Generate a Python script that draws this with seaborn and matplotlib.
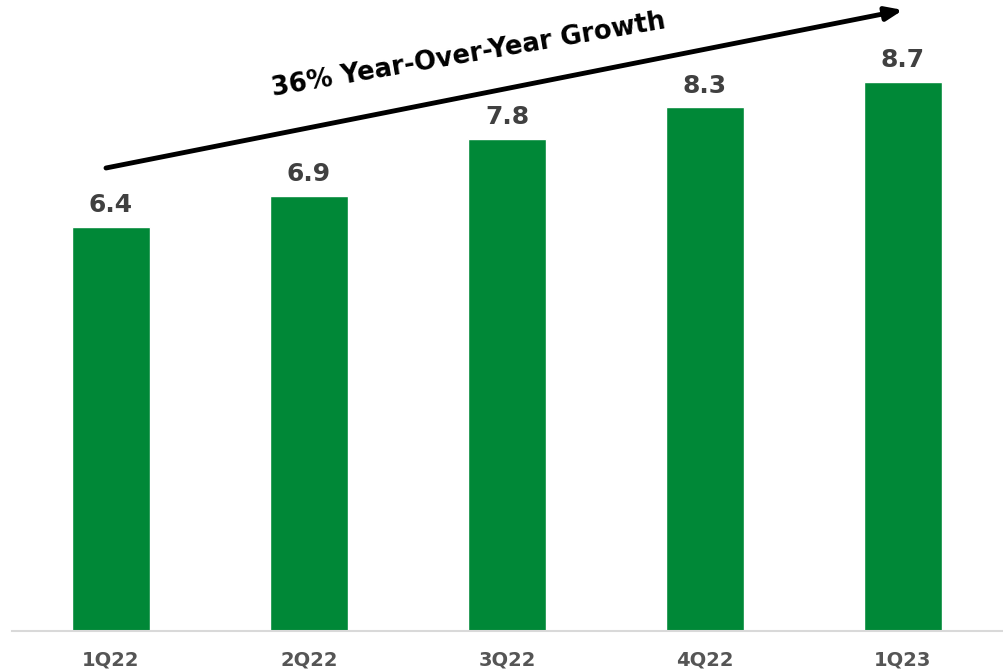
import matplotlib
matplotlib.use("Agg")
import matplotlib.pyplot as plt
import seaborn as sns
import pandas as pd

quarters = ["1Q22", "2Q22", "3Q22", "4Q22", "1Q23"]
values = [6.4, 6.9, 7.8, 8.3, 8.7]
value_labels = ["6.4", "6.9", "7.8", "8.3", "8.7"]
growth_label = "36% Year-Over-Year Growth"

sns.set_theme(style="white")
plt.rcParams['font.family'] = ['DejaVu Sans']

df = pd.DataFrame({"quarter": quarters, "value": values})

fig = plt.figure(figsize=(10.04, 6.71), dpi=100)
ax = fig.add_axes([12/1004, 1 - 631/671, 990/1004, 631/671])
sns.barplot(data=df, x="quarter", y="value", color="#008837", saturation=1,
            width=0.395, ax=ax)
ax.set_xlim(-0.5, 4.5)
ax.set_ylim(0, 631/63.1)
ax.set_xlabel("")
ax.set_ylabel("")
ax.set_yticks([])
for s in ["top", "left", "right"]:
    ax.spines[s].set_visible(False)
ax.spines["bottom"].set_color("#d9d9d9")
ax.spines["bottom"].set_linewidth(1.5)
ax.tick_params(axis="x", length=0, pad=14)
for t in ax.get_xticklabels():
    t.set_fontsize(14)
    t.set_fontweight("bold")
    t.set_color("#555555")

for i, (v, lab) in enumerate(zip(values, value_labels)):
    ax.annotate(lab, (i, v), xytext=(0, 7), textcoords="offset points",
                ha="center", va="bottom", fontsize=18, fontweight="bold",
                color="#404040")

# arrow in figure pixel coords
def fx(px):
    return px / 1004
def fy(py):
    return 1 - py / 671

fig.patches.append(matplotlib.patches.FancyArrowPatch(
    (fx(106), fy(168)), (fx(903), fy(10)), transform=fig.transFigure,
    arrowstyle="-|>,head_length=10,head_width=4", mutation_scale=1,
    color="black", linewidth=3.5, shrinkA=0, shrinkB=0))

fig.text(fx(469), fy(55), growth_label, rotation=9.8, ha="center", va="center",
         fontsize=18.5, fontweight="bold", color="black", rotation_mode="anchor")

fig.savefig("out.png", dpi=100)
